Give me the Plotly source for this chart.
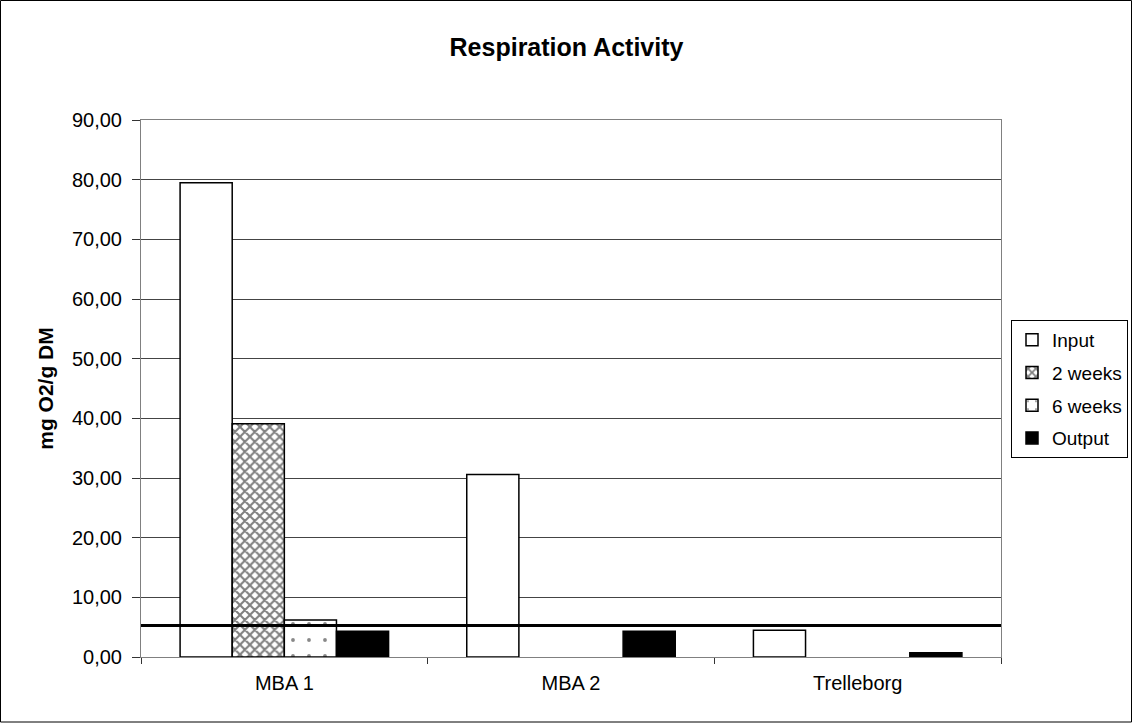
import plotly.graph_objects as go

categories = ["MBA 1", "MBA 2", "Trelleborg"]
series_names = ["Input", "2 weeks", "6 weeks", "Output"]
input_vals = [79.5, 30.6, 4.5]
weeks2_vals = [39.1, None, None]
weeks6_vals = [6.2, None, None]
output_vals = [4.3, 4.3, 0.7]
threshold = 5.3
y_ticks = [0, 10, 20, 30, 40, 50, 60, 70, 80, 90]

W, H = 1133, 723
ml, mr, mt, mb = 141, 132, 120, 66
pw, ph = W - ml - mr, H - mt - mb

fig = go.Figure()
series = [
    (series_names[0], input_vals, dict(color="white", pattern=dict(shape=""))),
    (series_names[1], weeks2_vals, dict(color="white", pattern=dict(shape="x", fgcolor="#000", size=7, solidity=0.5))),
    (series_names[2], weeks6_vals, dict(color="white", pattern=dict(shape=".", fgcolor="#111", size=16, solidity=0.045))),
    (series_names[3], output_vals, dict(color="black", pattern=dict(shape=""))),
]
for i, (name, vals, mk) in enumerate(series):
    fig.add_trace(go.Bar(
        name=name, x=categories, y=vals, legendgroup=f"g{i}",
        marker=dict(line=dict(color="black", width=1.5), **mk),
    ))

fig.add_shape(type="line", xref="paper", yref="y", x0=0, x1=1, y0=threshold, y1=threshold,
              line=dict(color="black", width=3))
# outer chart border
fig.add_shape(type="rect", xref="paper", yref="paper",
              x0=-ml / pw + 0.5 / pw, x1=1 + (mr - 1.5) / pw,
              y0=-mb / ph + 1 / ph, y1=1 + (mt - 0.5) / ph,
              line=dict(color="black", width=1), layer="below")

fig.update_layout(
    width=W, height=H,
    margin=dict(l=ml, r=mr, t=mt, b=mb, autoexpand=False),
    paper_bgcolor="white", plot_bgcolor="white",
    separators=",.",
    barmode="group", bargap=0.2727, bargroupgap=0,
    font=dict(family="Liberation Sans, Arial, sans-serif", size=20, color="black"),
    title=dict(text="<b>Respiration Activity</b>", x=0.5, xanchor="center", y=1 - 47 / H, yanchor="middle",
               font=dict(size=25)),
    legend=dict(x=(1011 - ml) / pw, xanchor="left", y=(H - mb - 320) / ph, yanchor="top",
                bordercolor="black", borderwidth=1, bgcolor="white",
                font=dict(size=19), tracegroupgap=5, itemwidth=30),
    showlegend=True,
)
fig.update_xaxes(
    showline=True, linecolor="#808080", linewidth=1, mirror=True,
    ticks="outside", tickson="boundaries", ticklen=6, tickcolor="#333",
    tickfont=dict(size=20), showgrid=False, ticklabelstandoff=8,
)
fig.update_yaxes(
    range=[0, 90], tickvals=y_ticks, tickformat=".2f",
    showline=True, linecolor="#808080", linewidth=1, mirror=True,
    ticks="outside", ticklen=8, tickcolor="#333",
    showgrid=True, gridcolor="#444", gridwidth=1,
    tickfont=dict(size=20), ticklabelstandoff=6,
    title=dict(text="<b>mg O2/g DM</b>", font=dict(size=21), standoff=12),
)
fig.write_html("out.html")
